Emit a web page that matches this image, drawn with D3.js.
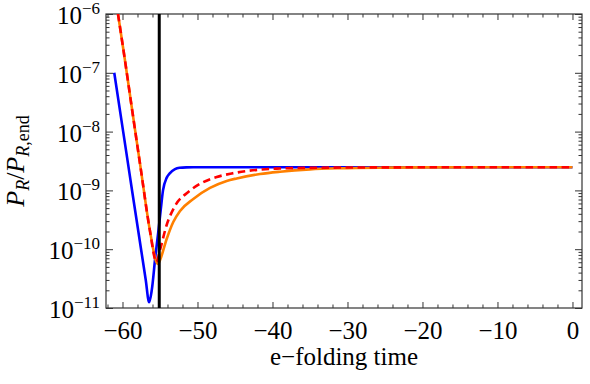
<!DOCTYPE html>
<html>
<head>
<meta charset="utf-8">
<script src="https://cdn.jsdelivr.net/npm/d3@7"></script>
<style>
  body { margin: 0; background: #fff; }
  text { font-family: "Liberation Serif", "Times New Roman", serif; fill: #000; }
</style>
</head>
<body>
<div id="chart"></div>
<script>
// e-folding time samples and P_R / P_R,end
const tBlue = [-61.1, -59.9, -58.7, -57.5, -56.9, -56.45, -56.1, -55.6, -55.2, -54.9, -54.6, -54.1, -53.7, -53.0, -52.4, -51.5, -50, -40, -30, -20, -10, 0];
const pBlue = [1.0e-7, 9.8e-9, 9.5e-10, 9.5e-11, 3.0e-11, 1.25e-11, 2.0e-11, 7.9e-11, 2.1e-10, 4.7e-10, 1.0e-9, 1.65e-9, 1.95e-9, 2.3e-9, 2.42e-9, 2.46e-9, 2.47e-9, 2.47e-9, 2.47e-9, 2.47e-9, 2.47e-9, 2.47e-9];

const tOrange = [-60.6, -59.76, -58.7, -57.56, -56.36, -55.47, -55.25, -55.0, -54.11, -53.23, -52.33, -50.56, -48.33, -46.11, -44.77, -41.67, -39.0, -35, -31, -25, -20, -10, 0];
const pOrange = [1.0e-6, 1.95e-7, 2.26e-8, 2.3e-9, 2.13e-10, 6.05e-11, 5.6e-11, 6.5e-11, 1.49e-10, 2.9e-10, 4.47e-10, 7.15e-10, 1.1e-9, 1.45e-9, 1.6e-9, 1.9e-9, 2.08e-9, 2.28e-9, 2.38e-9, 2.44e-9, 2.46e-9, 2.47e-9, 2.47e-9];

const tRed = [-60.6, -59.76, -58.7, -57.56, -56.36, -55.47, -55.0, -54.11, -53.0, -51.23, -49.44, -47.44, -45.44, -41.67, -39.0, -35, -30, -20, -10, 0];
const pRed = [1.0e-6, 1.95e-7, 2.26e-8, 2.3e-9, 2.13e-10, 6.05e-11, 9.7e-11, 2.58e-10, 5.43e-10, 9.4e-10, 1.34e-9, 1.69e-9, 1.94e-9, 2.26e-9, 2.36e-9, 2.42e-9, 2.45e-9, 2.47e-9, 2.47e-9, 2.47e-9];

const xTicks = [-60, -50, -40, -30, -20, -10, 0];
const yExps = [-11, -10, -9, -8, -7, -6];
const tMark = -55.1;

const width = 590, height = 384;
const margin = { top: 14, right: 8, bottom: 76, left: 106 };

const svg = d3.select('#chart')
  .append('svg')
  .attr('width', width)
  .attr('height', height);

const x = d3.scaleLinear()
  .domain([-62.2, 1.27])
  .range([margin.left, width - margin.right]);

const y = d3.scaleLog()
  .domain([1e-11, 1e-6])
  .range([height - margin.bottom, margin.top]);

const x0 = x.range()[0], x1 = x.range()[1];
const y0 = y.range()[0], y1 = y.range()[1];

svg.append('clipPath').attr('id', 'clip')
  .append('rect')
  .attr('x', x0).attr('y', y1)
  .attr('width', x1 - x0).attr('height', y0 - y1);

// minor ticks
const xMinor = d3.range(-62, 1, 2).filter(v => v % 10 !== 0);
const yMinor = [];
yExps.slice(0, -1).forEach(e => {
  for (let k = 2; k <= 9; k++) yMinor.push(k * Math.pow(10, e));
});

const tickStyle = g => {
  g.select('.domain').remove();
  g.selectAll('line').attr('stroke', '#333');
};

svg.append('g')
  .attr('transform', `translate(0, ${y0})`)
  .call(d3.axisBottom(x).tickValues(xTicks).tickSize(-6).tickPadding(13))
  .call(tickStyle)
  .call(g => g.selectAll('text').attr('font-size', '25px'));

svg.append('g')
  .attr('transform', `translate(0, ${y0})`)
  .call(d3.axisBottom(x).tickValues(xMinor).tickSize(-3.5).tickFormat(''))
  .call(tickStyle);

svg.append('g')
  .attr('transform', `translate(0, ${y1})`)
  .call(d3.axisTop(x).tickValues(xTicks).tickSize(-6).tickFormat(''))
  .call(tickStyle);

svg.append('g')
  .attr('transform', `translate(0, ${y1})`)
  .call(d3.axisTop(x).tickValues(xMinor).tickSize(-3.5).tickFormat(''))
  .call(tickStyle);

const decades = yExps.map(e => Math.pow(10, e));

svg.append('g')
  .attr('transform', `translate(${x0}, 0)`)
  .call(d3.axisLeft(y).tickValues(decades).tickSize(-7).tickFormat(''))
  .call(tickStyle);

svg.append('g')
  .attr('transform', `translate(${x0}, 0)`)
  .call(d3.axisLeft(y).tickValues(yMinor).tickSize(-3.5).tickFormat(''))
  .call(tickStyle);

svg.append('g')
  .attr('transform', `translate(${x1}, 0)`)
  .call(d3.axisRight(y).tickValues(decades).tickSize(-7).tickFormat(''))
  .call(tickStyle);

svg.append('g')
  .attr('transform', `translate(${x1}, 0)`)
  .call(d3.axisRight(y).tickValues(yMinor).tickSize(-3.5).tickFormat(''))
  .call(tickStyle);

// y tick labels 10^n
const yLab = svg.append('g')
  .selectAll('text')
  .data(yExps)
  .join('text')
  .attr('x', x0 - 6)
  .attr('y', e => y(Math.pow(10, e)) + 10)
  .attr('text-anchor', 'end')
  .attr('font-size', '25px');
yLab.append('tspan').text('10');
yLab.append('tspan')
  .attr('dy', -10)
  .attr('font-size', '17px')
  .text(e => '\u2212' + Math.abs(e));

// frame
svg.append('rect')
  .attr('x', x0).attr('y', y1)
  .attr('width', x1 - x0).attr('height', y0 - y1)
  .attr('fill', 'none')
  .attr('stroke', '#333')
  .attr('stroke-width', 1.2);

const line = d3.line()
  .x(d => x(d[0]))
  .y(d => y(d[1]))
  .curve(d3.curveMonotoneX);

const plot = svg.append('g').attr('clip-path', 'url(#clip)');

plot.append('path')
  .datum(d3.zip(tBlue, pBlue))
  .attr('d', line)
  .attr('fill', 'none')
  .attr('stroke', '#0000ff')
  .attr('stroke-width', 2.6);

plot.append('path')
  .datum(d3.zip(tOrange, pOrange))
  .attr('d', line)
  .attr('fill', 'none')
  .attr('stroke', '#ff8000')
  .attr('stroke-width', 2.6);

plot.append('path')
  .datum(d3.zip(tRed, pRed))
  .attr('d', line)
  .attr('fill', 'none')
  .attr('stroke', '#ff0000')
  .attr('stroke-width', 2.6)
  .attr('stroke-dasharray', '7.5,4.5');

plot.append('line')
  .attr('x1', x(tMark)).attr('x2', x(tMark))
  .attr('y1', y1).attr('y2', y0)
  .attr('stroke', '#000')
  .attr('stroke-width', 3);

// axis titles
svg.append('text')
  .attr('x', (x0 + x1) / 2)
  .attr('y', 365)
  .attr('text-anchor', 'middle')
  .attr('font-size', '25px')
  .text('e\u2212folding time');

const yTitle = svg.append('text')
  .attr('transform', `translate(24, ${(y0 + y1) / 2}) rotate(-90)`)
  .attr('text-anchor', 'middle')
  .attr('font-size', '26px');
yTitle.append('tspan').attr('font-style', 'italic').text('P');
yTitle.append('tspan').attr('font-style', 'italic').attr('font-size', '18px').attr('dy', 5).text('R');
yTitle.append('tspan').attr('dy', -5).text('/');
yTitle.append('tspan').attr('font-style', 'italic').text('P');
yTitle.append('tspan').attr('font-style', 'italic').attr('font-size', '18px').attr('dy', 5).text('R');
yTitle.append('tspan').attr('font-size', '18px').text(',end');
</script>
</body>
</html>
